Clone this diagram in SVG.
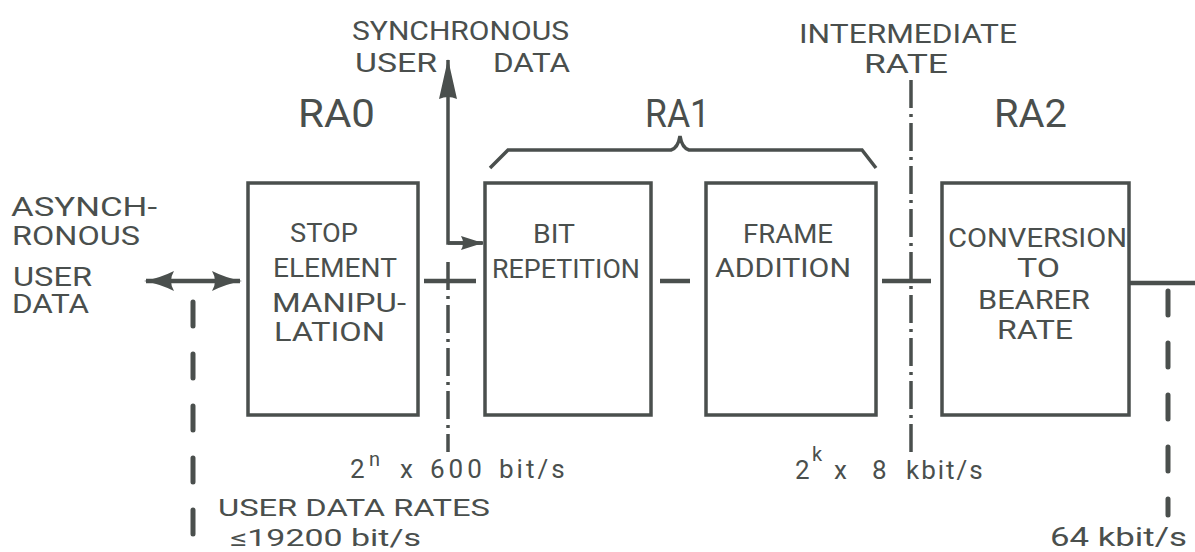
<svg xmlns="http://www.w3.org/2000/svg" width="1195" height="552" viewBox="0 0 1195 552">
<defs>
<style>
.t{font-family:Roboto,"Liberation Sans",sans-serif;font-size:26px;fill:#4a4f4d}
.big{font-size:38px}
.sup{font-size:20px}
.sm{font-size:24px}
.box{fill:none;stroke:#4a4f4d;stroke-width:3.5}
.ln{fill:none;stroke:#4a4f4d;stroke-width:4.5}
.thin{fill:none;stroke:#4a4f4d;stroke-width:3.5}
.dd{fill:none;stroke:#4a4f4d;stroke-width:3.5;stroke-dasharray:28 6 3 6}
.ds{fill:none;stroke:#4a4f4d;stroke-width:5;stroke-linecap:round;stroke-dasharray:24 28}
</style>
<marker id="ah" viewBox="0 0 30 20" refX="28" refY="10" markerWidth="30" markerHeight="20" markerUnits="userSpaceOnUse" orient="auto-start-reverse">
<path d="M0,0 Q14,7 30,10 Q14,13 0,20 Q6,10 0,0 z" fill="#4a4f4d"/>
</marker>
<marker id="ahup" viewBox="0 0 40 18" refX="39" refY="9" markerWidth="40" markerHeight="18" markerUnits="userSpaceOnUse" orient="auto">
<path d="M0,0 L40,9 L0,18 Q4,9 0,0 z" fill="#4a4f4d"/>
</marker>
<marker id="ahs" viewBox="0 0 22 14" refX="21" refY="7" markerWidth="22" markerHeight="14" markerUnits="userSpaceOnUse" orient="auto">
<path d="M0,0 L22,7 L0,14 Q4,7 0,0 z" fill="#4a4f4d"/>
</marker>
</defs>
<rect width="1195" height="552" fill="#ffffff"/>

<g id="connectors">
<line class="ln" x1="146" y1="281" x2="240" y2="281" marker-start="url(#ah)" marker-end="url(#ah)"/>
<path class="thin" d="M483,243 L448,243 L448,60" marker-end="url(#ahup)"/>
<path class="thin" d="M448,243 L482,243" marker-end="url(#ahs)"/>
<line class="ln" x1="424" y1="281" x2="476" y2="281"/>
<line class="ln" x1="660" y1="281" x2="690" y2="281"/>
<line class="ln" x1="882" y1="281" x2="931" y2="281"/>
<line class="ln" x1="1129" y1="283" x2="1195" y2="283"/>
<path class="thin" d="M490,168 L508,150 L671,150 Q678,148 680,136 Q682,148 689,150 L862,150 L876,168"/>
<line class="dd" x1="448" y1="262" x2="448" y2="452"/>
<line class="dd" x1="911" y1="80" x2="911" y2="452"/>
<line class="ds" x1="193" y1="302" x2="193" y2="560"/>
<line class="ds" x1="1168" y1="291" x2="1168" y2="515"/>
</g>

<g id="labels">
<text class="t" x="352" y="40" textLength="217" lengthAdjust="spacingAndGlyphs">SYNCHRONOUS</text>
<text class="t" x="355" y="72" textLength="82" lengthAdjust="spacingAndGlyphs">USER</text>
<text class="t" x="493" y="72" textLength="77" lengthAdjust="spacingAndGlyphs">DATA</text>
<text class="t" x="799" y="43" textLength="218" lengthAdjust="spacingAndGlyphs">INTERMEDIATE</text>
<text class="t" x="864" y="73" textLength="84" lengthAdjust="spacingAndGlyphs">RATE</text>
<text class="t big" x="298" y="127" textLength="77" lengthAdjust="spacingAndGlyphs">RA0</text>
<text class="t big" x="645" y="127" textLength="65" lengthAdjust="spacingAndGlyphs">RA1</text>
<text class="t big" x="994" y="127" textLength="73" lengthAdjust="spacingAndGlyphs">RA2</text>
<text class="t" x="11" y="216" textLength="146" lengthAdjust="spacingAndGlyphs">ASYNCH-</text>
<text class="t" x="12" y="245" textLength="128" lengthAdjust="spacingAndGlyphs">RONOUS</text>
<text class="t" x="13" y="286" textLength="79" lengthAdjust="spacingAndGlyphs">USER</text>
<text class="t" x="12" y="313" textLength="77" lengthAdjust="spacingAndGlyphs">DATA</text>
<text class="t"><tspan x="350" y="478">2</tspan><tspan class="sup" x="369" y="466">n</tspan><tspan x="400" y="478">x</tspan><tspan x="430" y="478" letter-spacing="4">600</tspan><tspan x="499" y="478" letter-spacing="3">bit/s</tspan></text>
<text class="t"><tspan x="795" y="479">2</tspan><tspan class="sup" x="812" y="461">k</tspan><tspan x="834" y="479">x</tspan><tspan x="872" y="479">8</tspan><tspan x="906" y="479" letter-spacing="2">kbit/s</tspan></text>
<text class="t sm" x="218" y="516" textLength="272" lengthAdjust="spacingAndGlyphs">USER DATA RATES</text>
<text class="t sm" x="230" y="546" textLength="191" lengthAdjust="spacingAndGlyphs">≤19200 bit/s</text>
<text class="t" x="1050" y="546" textLength="137" lengthAdjust="spacingAndGlyphs">64 kbit/s</text>
</g>

<g id="node-ra0">
<rect class="box" x="248" y="183" width="170" height="232"/>
<text class="t" x="290" y="242" textLength="68" lengthAdjust="spacingAndGlyphs">STOP</text>
<text class="t" x="273" y="277" textLength="124" lengthAdjust="spacingAndGlyphs">ELEMENT</text>
<text class="t" x="272" y="312" textLength="134" lengthAdjust="spacingAndGlyphs">MANIPU-</text>
<text class="t" x="274" y="341" textLength="111" lengthAdjust="spacingAndGlyphs">LATION</text>
</g>

<g id="node-bit">
<rect class="box" x="485" y="183" width="166" height="232"/>
<text class="t" x="533" y="243" textLength="42" lengthAdjust="spacingAndGlyphs">BIT</text>
<text class="t" x="492" y="278" textLength="148" lengthAdjust="spacingAndGlyphs">REPETITION</text>
</g>

<g id="node-frame">
<rect class="box" x="706" y="183" width="170" height="232"/>
<text class="t" x="743" y="243" textLength="90" lengthAdjust="spacingAndGlyphs">FRAME</text>
<text class="t" x="715" y="277" textLength="136" lengthAdjust="spacingAndGlyphs">ADDITION</text>
</g>

<g id="node-ra2">
<rect class="box" x="942" y="183" width="187" height="232"/>
<text class="t" x="948" y="247" textLength="179" lengthAdjust="spacingAndGlyphs">CONVERSION</text>
<text class="t" x="1017" y="277" textLength="43" lengthAdjust="spacingAndGlyphs">TO</text>
<text class="t" x="978" y="309" textLength="112" lengthAdjust="spacingAndGlyphs">BEARER</text>
<text class="t" x="997" y="339" textLength="76" lengthAdjust="spacingAndGlyphs">RATE</text>
</g>
</svg>
